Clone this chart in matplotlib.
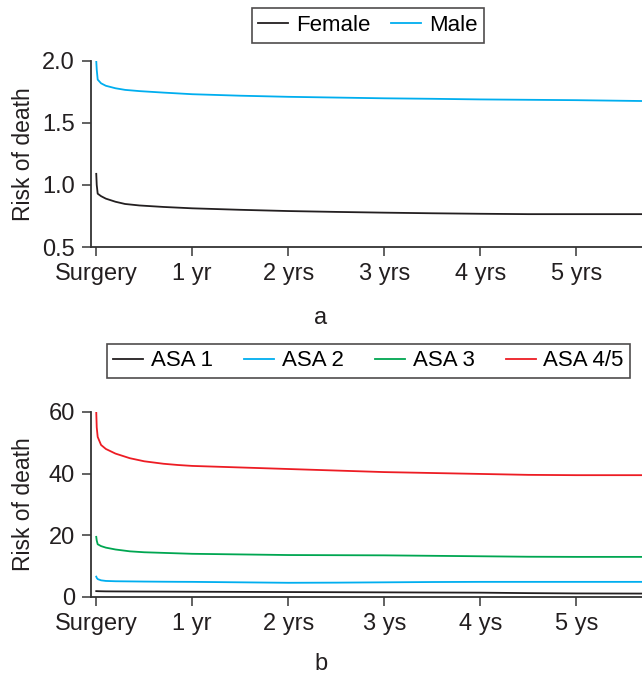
import matplotlib.pyplot as plt
import numpy as np

## data (x in years after surgery)
t_sex = [0.0, 0.005, 0.015, 0.05, 0.1, 0.2, 0.3, 0.45, 0.7, 1.0, 1.5, 2.0, 2.5, 3.0, 3.5, 4.0, 4.5, 5.0, 5.7]
female = [1.09, 1.0, 0.93, 0.91, 0.89, 0.865, 0.847, 0.835, 0.823, 0.812, 0.80, 0.79, 0.783, 0.777, 0.772, 0.768, 0.765, 0.765, 0.765]
male = [2.0, 1.93, 1.85, 1.82, 1.80, 1.78, 1.767, 1.757, 1.745, 1.732, 1.72, 1.711, 1.705, 1.699, 1.695, 1.69, 1.687, 1.684, 1.677]

t_asa = [0.0, 0.005, 0.015, 0.05, 0.1, 0.2, 0.35, 0.5, 0.7, 0.85, 1.0, 1.5, 2.0, 2.5, 3.0, 3.5, 4.0, 4.5, 5.0, 5.7]
asa1 = [1.9, 1.9, 1.88, 1.85, 1.82, 1.8, 1.78, 1.76, 1.74, 1.72, 1.7, 1.65, 1.6, 1.55, 1.5, 1.45, 1.4, 1.25, 1.15, 1.1]
asa2 = [6.6, 6.2, 5.8, 5.4, 5.2, 5.1, 5.05, 5.0, 4.95, 4.92, 4.9, 4.75, 4.6, 4.65, 4.75, 4.85, 4.9, 4.9, 4.9, 4.9]
asa3 = [19.5, 18.3, 17.1, 16.5, 16.0, 15.4, 14.8, 14.5, 14.3, 14.15, 14.0, 13.8, 13.6, 13.55, 13.5, 13.35, 13.2, 13.05, 13.0, 13.0]
asa45 = [60.0, 55.0, 51.9, 49.3, 48.0, 46.5, 45.0, 44.0, 43.2, 42.8, 42.5, 42.0, 41.5, 41.0, 40.5, 40.2, 39.9, 39.6, 39.5, 39.5]

xticks = [0, 1, 2, 3, 4, 5]
xlabels_a = ['Surgery', '1 yr', '2 yrs', '3 yrs', '4 yrs', '5 yrs']
xlabels_b = ['Surgery', '1 yr', '2 yrs', '3 ys', '4 ys', '5 ys']

black = '#231f20'
blue = '#00aeef'
green = '#00a651'
red = '#ed1c24'

plt.rcParams['font.family'] = ['Liberation Sans', 'DejaVu Sans']
plt.rcParams['font.size'] = 17

fig = plt.figure(figsize=(6.42, 6.76), dpi=100)
ax1 = fig.add_axes([0.1417, 0.6346, 0.8583, 0.2752])
ax2 = fig.add_axes([0.1417, 0.1169, 0.8583, 0.2737])


def style(ax, labels):
    for s in ['top', 'right']:
        ax.spines[s].set_visible(False)
    for s in ['left', 'bottom']:
        ax.spines[s].set_color('#333333')
        ax.spines[s].set_linewidth(1.3)
    ax.set_xlim(-0.055, 5.685)
    ax.set_xticks(xticks)
    ax.set_xticklabels(labels)
    ax.tick_params(direction='out', length=6.5, width=1.3, color='#555555',
                   labelsize=17, labelcolor='#231f20', pad=5)
    ax.set_ylabel('Risk of death', fontsize=16.5, color='#231f20')
    ax.yaxis.set_label_coords(-0.101, 0.5)


ax1.plot(t_sex, female, color=black, lw=1.3, label='Female')
ax1.plot(t_sex, male, color=blue, lw=1.3, label='Male')
ax1.set_ylim(0.5, 2.0)
ax1.set_yticks([0.5, 1.0, 1.5, 2.0])
style(ax1, xlabels_a)

ax2.plot(t_asa, asa1, color=black, lw=1.3, label='ASA 1')
ax2.plot(t_asa, asa2, color=blue, lw=1.3, label='ASA 2')
ax2.plot(t_asa, asa3, color=green, lw=1.3, label='ASA 3')
ax2.plot(t_asa, asa45, color=red, lw=1.3, label='ASA 4/5')
ax2.set_ylim(0, 60)
ax2.set_yticks([0, 20, 40, 60])
style(ax2, xlabels_b)

leg1 = fig.legend(*ax1.get_legend_handles_labels(), loc='center',
                  bbox_to_anchor=(368 / 642, 1 - 25.5 / 676), ncol=2,
                  frameon=True, fancybox=False, fontsize=16, handlelength=1.35,
                  handletextpad=0.35, columnspacing=0.95, borderpad=0.3,
                  borderaxespad=0)
leg1.get_frame().set_edgecolor('#231f20')
leg1.get_frame().set_linewidth(1.2)

leg2 = fig.legend(*ax2.get_legend_handles_labels(), loc='center',
                  bbox_to_anchor=(368.5 / 642, 1 - 361 / 676), ncol=4,
                  frameon=True, fancybox=False, fontsize=16, handlelength=1.35,
                  handletextpad=0.35, columnspacing=1.4, borderpad=0.3,
                  borderaxespad=0)
leg2.get_frame().set_edgecolor('#231f20')
leg2.get_frame().set_linewidth(1.2)

fig.text(321 / 642, 1 - 318 / 676, 'a', ha='center', va='center', fontsize=17, color='#231f20')
fig.text(321 / 642, 1 - 664 / 676, 'b', ha='center', va='center', fontsize=17, color='#231f20')

fig.savefig('out.png', dpi=100)
